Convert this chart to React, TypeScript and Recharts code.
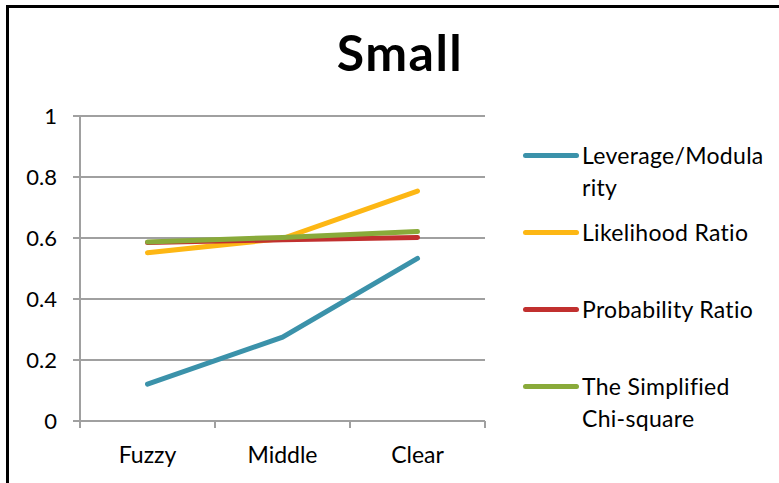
import { LineChart, Line, XAxis, YAxis, CartesianGrid } from "recharts";

const categories = ["Fuzzy", "Middle", "Clear"];
const leverage = [0.121, 0.275, 0.533];
const likelihood = [0.552, 0.598, 0.754];
const probability = [0.585, 0.594, 0.602];
const chiSquare = [0.587, 0.602, 0.621];
const yTicks = [0, 0.2, 0.4, 0.6, 0.8, 1];

const series = [
  { key: "leverage", name: "Leverage/Modularity", label: ["Leverage/Modula", "rity"], color: "#3b92aa" },
  { key: "likelihood", name: "Likelihood Ratio", label: ["Likelihood Ratio"], color: "#fdb714" },
  { key: "probability", name: "Probability Ratio", label: ["Probability Ratio"], color: "#c1302f" },
  { key: "chi", name: "The Simplified Chi-square", label: ["The Simplified", "Chi-square"], color: "#89aa3a" },
];

const data = categories.map((c, i) => ({
  cat: c,
  leverage: leverage[i],
  likelihood: likelihood[i],
  probability: probability[i],
  chi: chiSquare[i],
}));

const FONT = "Lato, 'Open Sans', sans-serif";
const PLOT_LEFT = 80;
const PLOT_RIGHT = 485;
const HALF_BAND = (PLOT_RIGHT - PLOT_LEFT) / categories.length / 2;

function CatTick(props: any) {
  const { x, y, payload, index } = props;
  const last = index === categories.length - 1;
  return (
    <g>
      <line x1={x - HALF_BAND} x2={x - HALF_BAND} y1={y - 8} y2={y - 1} stroke="#a0a0a0" strokeWidth={2} />
      {last && (
        <line x1={x + HALF_BAND} x2={x + HALF_BAND} y1={y - 8} y2={y - 1} stroke="#a0a0a0" strokeWidth={2} />
      )}
      <text x={x} y={y + 34} textAnchor="middle" fontSize={23} fontFamily={FONT} fill="#000">
        {payload.value}
      </text>
    </g>
  );
}

function LegendBox() {
  return (
    <div
      style={{
        position: "absolute",
        left: 523,
        top: 139,
        fontFamily: FONT,
        fontSize: 23,
        letterSpacing: 0.3,
        color: "#000",
      }}
    >
      {series.map((s) => (
        <div key={s.key} style={{ position: "relative", height: 77 }}>
          <div
            style={{
              position: "absolute",
              left: 0,
              top: 14,
              width: 56,
              height: 5,
              borderRadius: 3,
              background: s.color,
            }}
          />
          <div style={{ position: "absolute", left: 59, top: 0, lineHeight: "32px", whiteSpace: "nowrap" }}>
            {s.label.map((l, i) => (
              <div key={i}>{l}</div>
            ))}
          </div>
        </div>
      ))}
    </div>
  );
}

export default function App() {
  return (
    <div
      style={{
        position: "absolute",
        left: 0,
        top: 0,
        width: 779,
        height: 483,
        overflow: "hidden",
        background: "#fff",
      }}
    >
      <div
        style={{
          position: "absolute",
          left: 6,
          top: 5,
          width: 820,
          height: 520,
          border: "3px solid #000",
        }}
      />
      <div
        style={{
          position: "absolute",
          left: 0,
          width: 800,
          top: 24,
          textAlign: "center",
          fontFamily: FONT,
          fontWeight: 700,
          fontSize: 50,
          letterSpacing: 1.5,
          lineHeight: "56px",
        }}
      >
        Small
      </div>
      <div style={{ position: "absolute", left: 0, top: 0 }}>
        <LineChart
          width={779}
          height={483}
          data={data}
          margin={{ top: 116, right: 779 - PLOT_RIGHT, bottom: 0, left: 0 }}
        >
          <CartesianGrid vertical={false} stroke="#a0a0a0" strokeWidth={2} />
          <XAxis
            dataKey="cat"
            scale="band"
            height={62}
            axisLine={{ stroke: "#a0a0a0", strokeWidth: 2 }}
            tickLine={false}
            tick={<CatTick />}
            interval={0}
          />
          <YAxis
            width={PLOT_LEFT}
            domain={[0, 1]}
            ticks={yTicks}
            tickFormatter={(v: number) => String(v)}
            axisLine={{ stroke: "#a0a0a0", strokeWidth: 2 }}
            tickLine={{ stroke: "#a0a0a0", strokeWidth: 2 }}
            tickSize={7}
            tickMargin={16}
            tick={{ fontSize: 22, fontFamily: FONT, fill: "#000" }}
          />
          {series.map((s) => (
            <Line
              key={s.key}
              dataKey={s.key}
              name={s.name}
              stroke={s.color}
              strokeWidth={5}
              strokeLinecap="round"
              dot={false}
              isAnimationActive={false}
              type="linear"
            />
          ))}
        </LineChart>
      </div>
      <LegendBox />
    </div>
  );
}
